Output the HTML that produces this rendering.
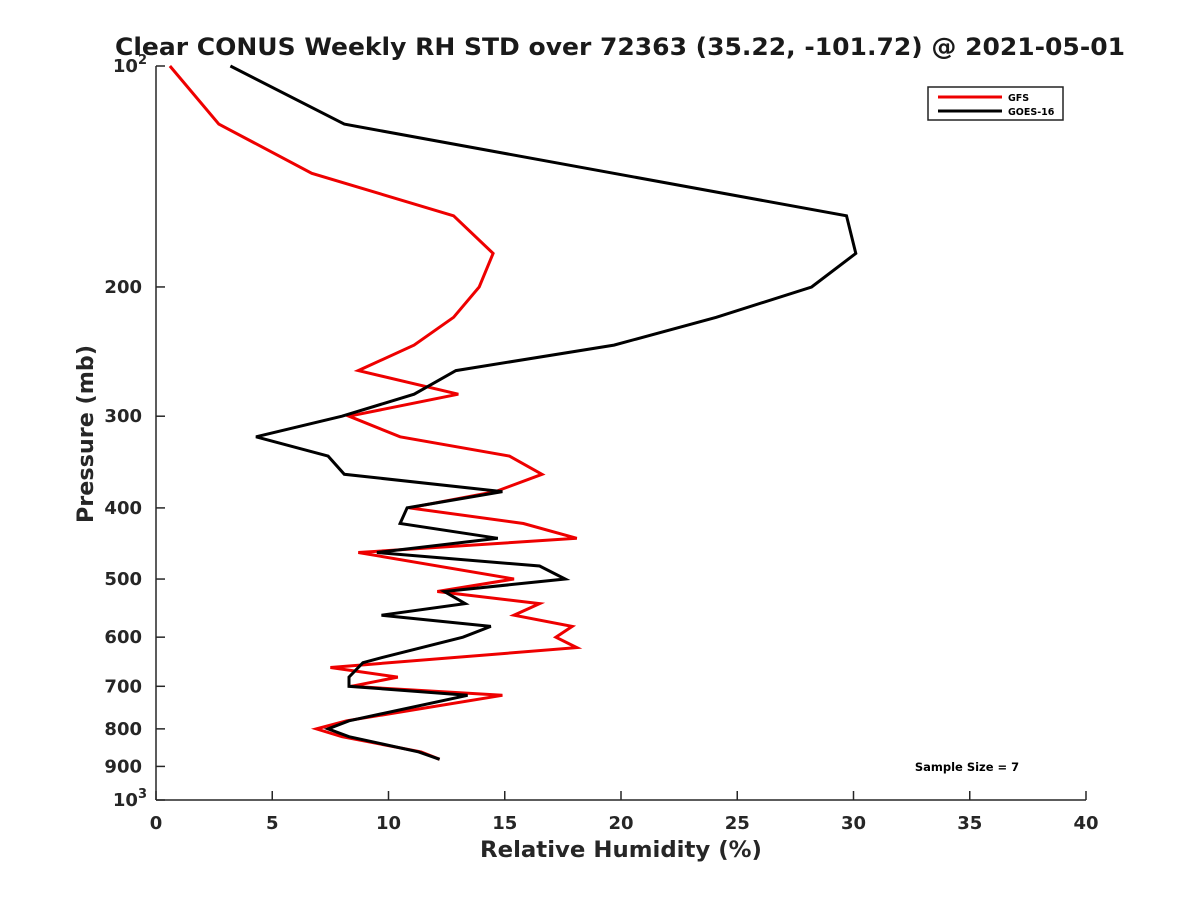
<!DOCTYPE html>
<html><head><meta charset="utf-8"><style>
body{margin:0;background:#fff}
svg{display:block;font-family:"DejaVu Sans","Liberation Sans",sans-serif}
</style></head><body>
<svg id="chart" width="1200" height="900" viewBox="0 0 1200 900">
<rect width="1200" height="900" fill="#fff"/>
<text x="620" y="55" text-anchor="middle" font-size="24" font-weight="bold" fill="#1a1a1a" textLength="1010" lengthAdjust="spacingAndGlyphs">Clear CONUS Weekly RH STD over 72363 (35.22, -101.72) @ 2021-05-01</text>
<g id="axes"></g>
<g id="series"></g>
<g>
<rect x="928" y="87" width="135" height="33" fill="#fff" stroke="#222" stroke-width="1.5"/>
<line x1="938" y1="97" x2="1002" y2="97" stroke="#e00" stroke-width="3"/>
<text x="1008" y="101" font-size="9.5" font-weight="bold">GFS</text>
<line x1="938" y1="111" x2="1002" y2="111" stroke="#000" stroke-width="3"/>
<text x="1008" y="115" font-size="9.5" font-weight="bold">GOES-16</text>
</g>
<text x="967" y="771" text-anchor="middle" font-size="11.5" font-weight="bold">Sample Size = 7</text>
<text x="621" y="857" text-anchor="middle" font-size="22" font-weight="bold" fill="#262626" textLength="282" lengthAdjust="spacingAndGlyphs">Relative Humidity (%)</text>
<text transform="translate(93,434) rotate(-90)" text-anchor="middle" font-size="22" font-weight="bold" fill="#262626" textLength="178" lengthAdjust="spacingAndGlyphs">Pressure (mb)</text>
</svg>
<script>
const xTicks=[0,5,10,15,20,25,30,35,40];
const yTicks=[100,200,300,400,500,600,700,800,900,1000];
const gfsP=[100,120,140,160,180,200,220,240,260,280,300,320,340,360,380,400,420,440,460,500,520,540,560,580,600,620,660,680,700,720,780,800,820,860,880];
const gfsV=[0.6,2.7,6.7,12.8,14.5,13.9,12.8,11.1,8.7,13.0,8.3,10.5,15.2,16.6,14.6,10.9,15.8,18.1,8.7,15.4,12.1,16.5,15.4,17.9,17.2,18.1,7.5,10.4,8.4,14.9,8.2,6.9,8.0,11.4,12.2];
const goesP=[100,120,160,180,200,220,240,260,280,300,320,340,360,380,400,420,440,460,480,500,520,540,560,580,600,640,650,680,700,720,780,800,820,860,880];
const goesV=[3.2,8.1,29.7,30.1,28.2,24.1,19.7,12.9,11.1,8.0,4.3,7.4,8.1,14.9,10.8,10.5,14.7,9.5,16.5,17.6,12.4,13.3,9.7,14.4,13.2,9.7,8.9,8.3,8.3,13.4,8.3,7.4,8.3,11.3,12.2];
const X0=156,X1=1086,Y0=66,Y1=800;
const xs=v=>X0+(v-0)/(40-0)*(X1-X0);
const ys=p=>Y0+(Math.log10(p)-2)*(Y1-Y0);
const NS="http://www.w3.org/2000/svg";
function mk(t,a,parent){const e=document.createElementNS(NS,t);for(const k in a)e.setAttribute(k,a[k]);parent.appendChild(e);return e;}
const axes=document.getElementById('axes');
const xl=mk('line',{x1:X0,y1:Y1,x2:X1,y2:Y1,stroke:'#262626','stroke-width':1.5},axes);


const yl=mk('line',{x1:X0,y1:Y0,x2:X0,y2:Y1,stroke:'#262626','stroke-width':1.5},axes);


xTicks.forEach(v=>{
  const x=xs(v);
  mk('line',{x1:x,y1:Y1,x2:x,y2:Y1-9,stroke:'#262626','stroke-width':1.5},axes);
  const t=mk('text',{x:x,y:829,'text-anchor':'middle','font-size':18,'font-weight':'bold',fill:'#262626'},axes);
  t.textContent=v;
  
  
});
yTicks.forEach(p=>{
  const y=ys(p);
  mk('line',{x1:X0,y1:y,x2:X0+9,y2:y,stroke:'#262626','stroke-width':1.5},axes);
  const t=mk('text',{x:142,y:y+6,'text-anchor':'end','font-size':18,'font-weight':'bold',fill:'#262626'},axes);
  if(p===100||p===1000){
    t.textContent='10';
    const s=mk('tspan',{dy:-8,'font-size':13},t);s.textContent=p===100?'2':'3';
    t.setAttribute('x',147);
  } else t.textContent=p;
  
  
});
const ser=document.getElementById('series');
function line(P,V,c,name){
  const pts=P.map((p,i)=>xs(V[i]).toFixed(1)+','+ys(p).toFixed(1)).join(' ');
  const l=mk('polyline',{points:pts,fill:'none',stroke:c,'stroke-width':3,'stroke-linejoin':'miter'},ser);
  
  
}
line(gfsP,gfsV,'#e00','gfs-line');
line(goesP,goesV,'#000','goes16-line');
</script>
</body></html>
